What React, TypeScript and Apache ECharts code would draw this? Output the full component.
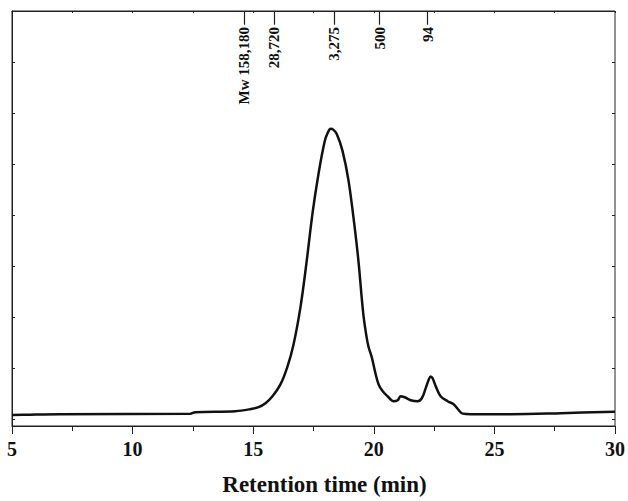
import React, { useEffect, useRef } from "react";
import * as echarts from "echarts";

// Retention time (min) and detector signal (arbitrary units, 0-100 scale)
const retentionTime = [
  5.0, 5.75, 6.99, 12.39, 12.6, 14.26, 14.88, 15.22, 15.51, 15.8, 16.13, 16.42, 16.67, 16.96,
  17.21, 17.46, 17.71, 17.96, 18.09, 18.21, 18.33, 18.46, 18.7, 18.95, 19.2, 19.37, 19.49,
  19.58, 19.7, 19.78, 19.91, 20.07, 20.2, 20.37, 20.57, 20.82, 20.99, 21.11, 21.28, 21.53,
  21.82, 21.99, 22.15, 22.28, 22.36, 22.44, 22.57, 22.77, 23.06, 23.31, 23.52, 23.69, 24.02,
  25.68, 27.76, 30.0,
];
const signal = [
  2.63, 2.74, 2.86, 2.98, 3.34, 3.58, 4.06, 4.53, 5.49, 7.16, 10.02, 14.32, 19.57, 28.64,
  39.38, 51.31, 60.86, 68.5, 70.64, 71.6, 71.36, 70.41, 66.35, 59.19, 48.21, 39.38, 31.5,
  26.25, 21.48, 19.09, 16.71, 12.65, 10.02, 8.35, 7.16, 5.97, 6.21, 7.16, 6.92, 6.21,
  5.97, 6.68, 9.07, 11.22, 11.93, 11.46, 9.55, 7.16, 5.97, 5.25, 3.82, 2.98, 2.86,
  2.86, 3.1, 3.46,
];

// Molecular-weight calibration markers (retention time and label)
const calibTime = [14.63, 15.88, 18.37, 20.24, 22.23];
const calibLabel = ["Mw 158,180", "28,720", "3,275", "500", "94"];

const xTickValues = [5, 10, 15, 20, 25, 30];

const FONT = '"Liberation Serif", "Times New Roman", serif';

export default function App() {
  const ref = useRef<HTMLDivElement>(null);
  useEffect(() => {
    if (!ref.current) return;
    const chart = echarts.init(ref.current, undefined, { renderer: "svg" });
    const data = retentionTime.map((t, i) => [t, signal[i]]);
    const Y_MAX = 100;
    const TICK_UNITS = 14 / 4.19; // hanging tick length (14 px) in signal units
    chart.setOption({
      animation: false,
      backgroundColor: "#ffffff",
      grid: [
        { left: 12, right: 13, top: 11, bottom: 71, show: true, borderColor: "#222", borderWidth: 1, containLabel: false },
        { left: 12, right: 13, top: 11, bottom: 82, show: false, containLabel: false },
      ],
      xAxis: [
        {
          type: "value",
          gridIndex: 0,
          position: "bottom",
          min: xTickValues[0],
          max: xTickValues[xTickValues.length - 1],
          interval: 5,
          axisLine: { show: true, lineStyle: { color: "#222", width: 1 } },
          axisTick: { show: true, inside: false, length: 8, lineStyle: { color: "#222", width: 1 } },
          minorTick: { show: true, splitNumber: 2, length: 5, lineStyle: { color: "#222", width: 1 } },
          splitLine: { show: false },
          axisLabel: {
            show: true,
            margin: 13,
            color: "#111",
            fontFamily: FONT,
            fontWeight: "bold",
            fontSize: 20,
          },
          name: "Retention time (min)",
          nameLocation: "middle",
          nameGap: 47,
          nameTextStyle: {
            color: "#111",
            fontFamily: FONT,
            fontWeight: "bold",
            fontSize: 23,
            padding: [0, 0, 0, 22],
          },
        },
        {
          type: "value",
          gridIndex: 0,
          position: "top",
          min: 5,
          max: 30,
          interval: 2.5,
          axisLine: { show: true, lineStyle: { color: "#222", width: 1 } },
          axisTick: { show: true, inside: true, length: 2, lineStyle: { color: "#222", width: 1 } },
          axisLabel: { show: false },
          splitLine: { show: false },
        },
        {
          type: "value",
          gridIndex: 0,
          position: "top",
          min: 5,
          max: 30,
          axisLine: { show: false },
          axisTick: { show: false },
          axisLabel: {
            show: true,
            inside: true,
            rotate: -90,
            margin: 16,
            customValues: calibTime,
            formatter: (v: number) => {
              const i = calibTime.indexOf(v);
              return i >= 0 ? calibLabel[i] : "";
            },
            color: "#111",
            fontFamily: FONT,
            fontWeight: "bold",
            fontSize: 15,
          },
          splitLine: { show: false },
        },
        {
          type: "value",
          gridIndex: 1,
          min: 5,
          max: 30,
          show: false,
        },
      ],
      yAxis: [
        {
          type: "value",
          gridIndex: 0,
          min: 0,
          max: Y_MAX,
          axisLine: { show: true, lineStyle: { color: "#222", width: 1 } },
          axisTick: { show: false },
          axisLabel: { show: false },
          splitLine: { show: false },
        },
        {
          type: "value",
          gridIndex: 1,
          position: "left",
          min: 0,
          max: 8,
          interval: 1,
          axisLine: { show: false },
          axisTick: { show: true, inside: true, length: 3, lineStyle: { color: "#222", width: 1 } },
          axisLabel: { show: false },
          splitLine: { show: false },
        },
        {
          type: "value",
          gridIndex: 1,
          position: "right",
          min: 0,
          max: 8,
          interval: 1,
          axisLine: { show: false },
          axisTick: { show: true, inside: true, length: 3, lineStyle: { color: "#222", width: 1 } },
          axisLabel: { show: false },
          splitLine: { show: false },
        },
      ],
      series: [
        {
          type: "line",
          xAxisIndex: 0,
          yAxisIndex: 0,
          data,
          showSymbol: false,
          smooth: 0.35,
          lineStyle: { color: "#111", width: 2.5 },
        },
        {
          type: "lines",
          coordinateSystem: "cartesian2d",
          xAxisIndex: 0,
          yAxisIndex: 0,
          silent: true,
          data: calibTime.map((t) => ({ coords: [[t, Y_MAX], [t, Y_MAX - TICK_UNITS]] })),
          lineStyle: { color: "#222", width: 1.2, opacity: 1 },
          z: 10,
        },
      ],
    });
    return () => chart.dispose();
  }, []);
  return (
    <div
      ref={ref}
      style={{ position: "fixed", left: 0, top: 0, width: 628, height: 501, background: "#fff" }}
    />
  );
}
